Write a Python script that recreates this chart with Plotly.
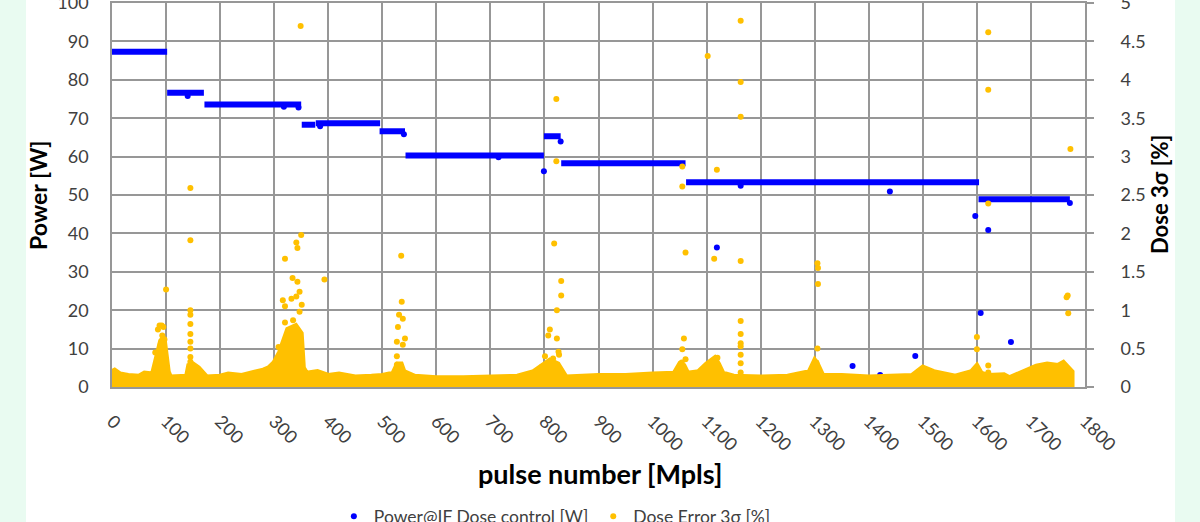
import plotly.graph_objects as go

# ---------------- data ----------------
# Power @ IF dose control [W]: plateau segments (start, end, level)
seg_start = [0, 102, 171, 351, 377, 495, 543, 799, 831, 1062, 1603]
seg_end = [102, 170, 350, 376, 496, 542, 799, 830, 1061, 1604, 1772]
seg_level = [87.3, 76.6, 73.6, 68.3, 68.7, 66.6, 60.3, 65.3, 58.3, 53.3, 48.9]

# isolated power readings [pulse number, W]
power_x = [140, 318, 345, 385, 540, 715, 830, 799, 1119, 1163, 1439,
           1370, 1421, 1486, 1607, 1597, 1621, 1663, 1772]
power_y = [75.8, 73.0, 72.8, 67.9, 65.8, 59.8, 63.9, 56.2, 36.3, 52.4, 50.9,
           5.5, 3.1, 8.1, 19.3, 44.5, 40.9, 11.7, 47.9]

# dose error 3σ: upper edge of the dense low-level band [pulse number, %]
band_x = [0, 5, 15, 30, 50, 60, 75, 80, 85, 90, 96, 100, 104, 108, 120, 138,
          142, 150, 160, 168, 175, 200, 215, 240, 260, 280, 290, 300, 310, 318,
          325, 340, 345, 350, 354, 360, 380, 400, 420, 450, 480, 500, 520, 528,
          535, 540, 560, 600, 650, 700, 750, 780, 790, 800, 810, 825, 832, 840,
          900, 950, 1000, 1040, 1050, 1058, 1065, 1085, 1100, 1115, 1122, 1130,
          1150, 1200, 1250, 1290, 1300, 1305, 1315, 1350, 1400, 1480, 1500,
          1520, 1560, 1590, 1600, 1608, 1620, 1650, 1660, 1690, 1710, 1730,
          1750, 1760, 1770, 1776]
band_top = [0.20, 0.22, 0.17, 0.15, 0.14, 0.18, 0.17, 0.30, 0.45, 0.60, 0.65,
            0.45, 0.20, 0.13, 0.13, 0.14, 0.28, 0.30, 0.25, 0.18, 0.13, 0.14,
            0.17, 0.15, 0.18, 0.22, 0.25, 0.32, 0.45, 0.60, 0.75, 0.80, 0.75,
            0.70, 0.25, 0.18, 0.20, 0.15, 0.17, 0.13, 0.14, 0.15, 0.18, 0.30,
            0.30, 0.20, 0.14, 0.12, 0.12, 0.13, 0.14, 0.20, 0.25, 0.30, 0.35,
            0.30, 0.22, 0.13, 0.15, 0.15, 0.17, 0.18, 0.30, 0.28, 0.18, 0.20,
            0.30, 0.38, 0.30, 0.18, 0.14, 0.13, 0.14, 0.20, 0.35, 0.30, 0.15,
            0.15, 0.13, 0.15, 0.26, 0.20, 0.14, 0.20, 0.28, 0.18, 0.15, 0.16,
            0.12, 0.22, 0.27, 0.30, 0.28, 0.32, 0.25, 0.20]

# dose error 3σ: individual excursions [pulse number, %]
dose_x = [85, 88, 92, 95, 100, 97, 90, 80, 86, 93,
          145, 145, 145, 145, 145, 145, 145, 145, 145, 145, 145,
          349, 350, 341, 343, 320, 334, 343, 347, 332, 341, 316, 320, 351, 347,
          335, 320, 308, 393,
          535, 536, 531, 538, 529, 542, 527, 538, 527, 527,
          822, 822, 818, 831, 831, 823, 810, 807, 823, 826, 801, 816, 795, 827,
          1055, 1055, 1061, 1058, 1055, 1061, 1054,
          1102, 1119, 1114, 1120,
          1163, 1163, 1163, 1163, 1163, 1163, 1163, 1163, 1163, 1163, 1163,
          1305, 1306, 1306, 1305, 1303,
          1600, 1600, 1621, 1621, 1621, 1621, 1621,
          1773, 1768, 1766, 1769]
dose_y = [0.75, 0.80, 0.80, 0.78, 1.27, 0.62, 0.55, 0.45, 0.35, 0.67,
          2.59, 1.91, 1.00, 0.94, 0.82, 0.69, 0.59, 0.50, 0.39, 0.33, 0.26,
          4.70, 1.98, 1.88, 1.81, 1.67, 1.42, 1.37, 1.24, 1.15, 1.18, 1.13,
          1.05, 1.07, 0.98, 0.87, 0.84, 0.52, 1.40,
          1.71, 1.11, 0.94, 0.89, 0.78, 0.63, 0.59, 0.55, 0.40, 0.29,
          3.75, 2.94, 1.87, 1.38, 1.19, 1.00, 0.75, 0.67, 0.63, 0.46, 0.40,
          0.37, 0.26, 0.42,
          2.87, 2.61, 1.75, 0.63, 0.49, 0.36, 0.32,
          4.31, 2.83, 1.67, 0.38,
          4.77, 3.97, 3.52, 1.64, 0.86, 0.69, 0.57, 0.53, 0.42, 0.31, 0.19,
          1.61, 1.55, 1.34, 0.50, 0.32,
          0.65, 0.49, 4.62, 3.87, 2.39, 0.28, 0.19,
          3.10, 1.19, 1.17, 0.96]

x_ticks = list(range(0, 1801, 100))

BLUE = "#0000FF"
ORANGE = "#FFC000"
GRID = "#979797"
TICKC = "#404040"
FONT = "Lato"

# ---------------- build traces ----------------
seg_x, seg_y = [], []
for s, e, v in zip(seg_start, seg_end, seg_level):
    seg_x += [s, e, None]
    seg_y += [v, v, None]

fig = go.Figure()
fig.add_trace(go.Scatter(x=seg_x, y=seg_y, mode="lines",
                         line=dict(color=BLUE, width=6),
                         showlegend=False, hoverinfo="skip", yaxis="y"))
fig.add_trace(go.Scatter(x=power_x, y=power_y, mode="markers",
                         marker=dict(color=BLUE, size=6),
                         name="Power@IF Dose control [W]", yaxis="y"))

poly_x = band_x + band_x[::-1]
poly_y = band_top + [0] * len(band_x)
fig.add_trace(go.Scatter(x=poly_x, y=poly_y, mode="lines", fill="toself",
                         fillcolor=ORANGE, line=dict(color=ORANGE, width=5),
                         showlegend=False, hoverinfo="skip", yaxis="y2"))
fig.add_trace(go.Scatter(x=dose_x, y=dose_y, mode="markers",
                         marker=dict(color=ORANGE, size=6),
                         name="Dose Error 3σ [%]", yaxis="y2"))

fig.update_layout(
    width=1200, height=522,
    margin=dict(l=112, r=115, t=3, b=135, autoexpand=False),
    paper_bgcolor="#E9FBF1", plot_bgcolor="white",
    font=dict(family=FONT, color=TICKC, size=18),
    xaxis=dict(range=[0, 1800], tickvals=x_ticks, tickangle=45,
               showgrid=True, gridcolor=GRID, gridwidth=1.5,
               showline=True, linecolor=GRID, linewidth=1.5, mirror=True,
               zeroline=False, ticks="", ticklabelstandoff=15,
               tickfont=dict(size=18, color=TICKC)),
    yaxis=dict(range=[0, 100], dtick=10, showgrid=True, gridcolor=GRID,
               gridwidth=1.5, showline=True, linecolor=GRID, linewidth=1.5,
               mirror=True, zeroline=False, ticks="", ticklabelstandoff=18,
               ticklabeloverflow="allow",
               tickfont=dict(size=18, color=TICKC)),
    yaxis2=dict(range=[0, 5], dtick=0.5, overlaying="y", side="right",
                showgrid=False, zeroline=False, ticks="outside", ticklen=8,
                tickcolor=GRID, tickwidth=1.5, ticklabelstandoff=23,
                ticklabeloverflow="allow",
                tickfont=dict(size=18, color=TICKC)),
    legend=dict(orientation="h", x=0.228, xanchor="left", y=-0.337,
                yanchor="middle", font=dict(size=17.5, color=TICKC),
                bgcolor="rgba(0,0,0,0)"),
    shapes=[dict(type="rect", xref="paper", yref="paper",
                 x0=(26 - 112) / 973, x1=(1175 - 112) / 973,
                 y0=-0.5, y1=1.2, fillcolor="white", line=dict(width=0),
                 layer="below")],
    annotations=[
        dict(text="<b>Power [W]</b>", xref="paper", yref="paper",
             x=(38 - 112) / 973, y=0.5, textangle=-90, showarrow=False,
             xanchor="center", yanchor="middle",
             font=dict(size=23, color="black", family=FONT)),
        dict(text="<b>Dose 3σ [%]</b>", xref="paper", yref="paper",
             x=(1159 - 112) / 973, y=0.5, textangle=-90, showarrow=False,
             xanchor="center", yanchor="middle",
             font=dict(size=22, color="black", family=FONT)),
        dict(text="<b>pulse number [Mpls]</b>", xref="paper", yref="paper",
             x=(600 - 112) / 973, y=(387 - 473) / 384, showarrow=False,
             xanchor="center", yanchor="middle",
             font=dict(size=27, color="black", family=FONT)),
    ],
)

fig.write_html("out.html", config={"displayModeBar": False},
               post_script="document.body.style.margin='0px';")
